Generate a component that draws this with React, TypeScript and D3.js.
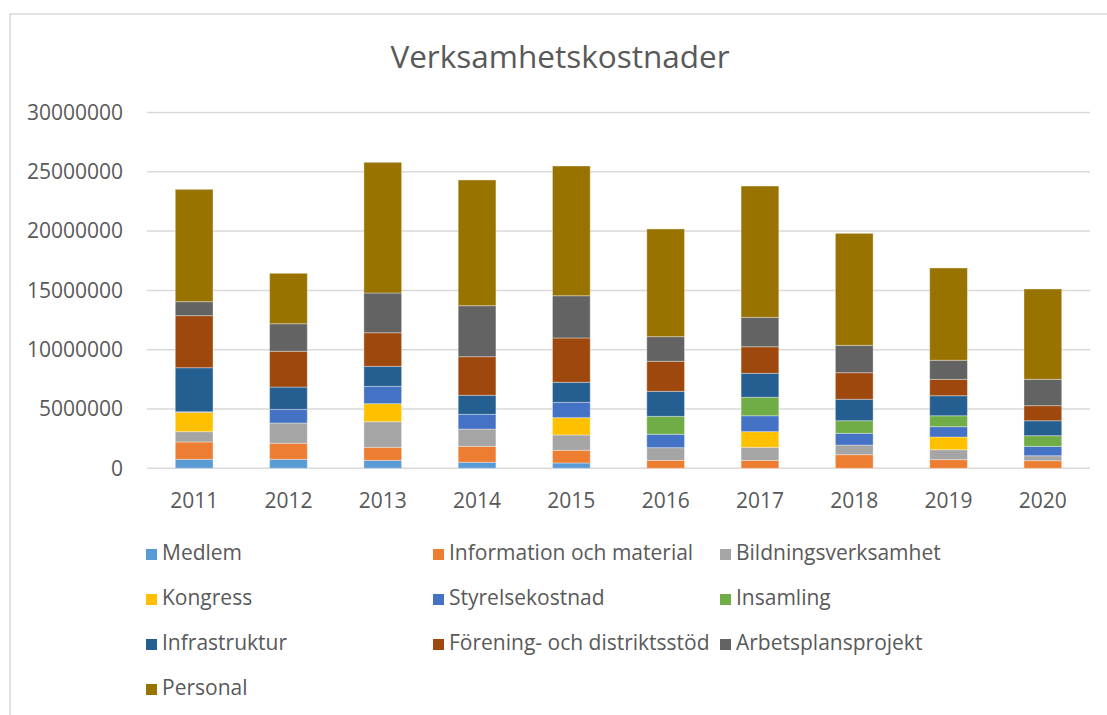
import React from "react";
import * as d3 from "d3";

// years on the x axis
const years = ["2011", "2012", "2013", "2014", "2015", "2016", "2017", "2018", "2019", "2020"];

// cost categories, bottom to top of each stack
const categories = [
  "Medlem",
  "Information och material",
  "Bildningsverksamhet",
  "Kongress",
  "Styrelsekostnad",
  "Insamling",
  "Infrastruktur",
  "Förening- och distriktsstöd",
  "Arbetsplansprojekt",
  "Personal",
];

const medlem = [760000, 760000, 670000, 510000, 450000, 0, 0, 0, 0, 0];
const information = [1460000, 1350000, 1100000, 1340000, 1070000, 670000, 670000, 1150000, 730000, 640000];
const bildning = [870000, 1710000, 2160000, 1460000, 1290000, 1070000, 1100000, 810000, 840000, 420000];
const kongress = [1630000, 0, 1520000, 0, 1460000, 0, 1320000, 0, 1070000, 0];
const styrelse = [50000, 1150000, 1460000, 1240000, 1290000, 1130000, 1340000, 990000, 870000, 790000];
const insamling = [0, 0, 0, 0, 0, 1510000, 1560000, 1060000, 920000, 900000];
const infrastruktur = [3710000, 1880000, 1690000, 1610000, 1690000, 2110000, 2020000, 1810000, 1690000, 1260000];
const forening = [4390000, 3020000, 2830000, 3250000, 3740000, 2530000, 2240000, 2240000, 1380000, 1270000];
const arbetsplan = [1180000, 2320000, 3350000, 4300000, 3560000, 2080000, 2480000, 2310000, 1610000, 2220000];
const personal = [9470000, 4250000, 11020000, 10600000, 10940000, 9080000, 11070000, 9440000, 7780000, 7620000];

const series = [medlem, information, bildning, kongress, styrelse, insamling, infrastruktur, forening, arbetsplan, personal];

const yTicks = [0, 5000000, 10000000, 15000000, 20000000, 25000000, 30000000];

const colors = [
  "#5B9BD5",
  "#ED7D31",
  "#A5A5A5",
  "#FFC000",
  "#4472C4",
  "#70AD47",
  "#255E91",
  "#9E480E",
  "#636363",
  "#997300",
];

const font = "'Open Sans', sans-serif";
const textColor = "#595959";
const gridColor = "#D9D9D9";

export default function App() {
  const width = 1107;
  const height = 715;
  const plot = { left: 147, right: 1090, top: 112.5, bottom: 468.3 };

  const table = years.map((y, i) => {
    const row: any = { year: y };
    categories.forEach((c, k) => (row[c] = series[k][i]));
    return row;
  });
  const stacked = d3.stack().keys(categories)(table);

  const x = d3.scaleBand().domain(years).range([plot.left, plot.right]).paddingInner(0.6).paddingOuter(0.3);
  const y = d3.scaleLinear().domain([0, 30000000]).range([plot.bottom, plot.top]);

  const legendCol = [146, 433, 720];
  const legendRow = [560, 605, 650, 695];

  return (
    <svg width={width} height={height} style={{ position: "absolute", left: 0, top: 0, background: "#fff" }}>
      <rect x={10} y={14} width={1100} height={720} fill="#fff" stroke={gridColor} strokeWidth={1.5} />

      <text x={560} y={68} textAnchor="middle" fontFamily={font} fontSize={31.5} fill={textColor}>
        Verksamhetskostnader
      </text>

      {/* grid + y labels */}
      {yTicks.map((t) => (
        <g key={t}>
          <line x1={plot.left} x2={plot.right} y1={y(t)} y2={y(t)} stroke={gridColor} strokeWidth={1.5} />
          <text x={123} y={y(t) + 7.3} textAnchor="end" fontFamily={font} fontSize={21} fill={textColor}>
            {t}
          </text>
        </g>
      ))}

      {/* stacks */}
      {stacked.map((s, k) => (
        <g key={s.key} fill={colors[k]}>
          {s.map((d, i) =>
            d[1] - d[0] > 0 ? (
              <rect
                key={years[i]}
                x={x(years[i])}
                y={y(d[1])}
                width={x.bandwidth()}
                height={y(d[0]) - y(d[1])}
                stroke="#fff"
                strokeOpacity={0.35}
                strokeWidth={1}
              />
            ) : null
          )}
        </g>
      ))}

      {/* x labels */}
      {years.map((yr) => (
        <text
          key={yr}
          x={x(yr)! + x.bandwidth() / 2}
          y={508}
          textAnchor="middle"
          fontFamily={font}
          fontSize={21}
          fill={textColor}
        >
          {yr}
        </text>
      ))}

      {/* legend */}
      {categories.map((c, k) => {
        const lx = legendCol[k % 3];
        const ly = legendRow[Math.floor(k / 3)];
        return (
          <g key={c}>
            <rect x={lx} y={ly - 11} width={11} height={11} fill={colors[k]} />
            <text x={lx + 16} y={ly} fontFamily={font} fontSize={21} fill={textColor}>
              {c}
            </text>
          </g>
        );
      })}
    </svg>
  );
}
